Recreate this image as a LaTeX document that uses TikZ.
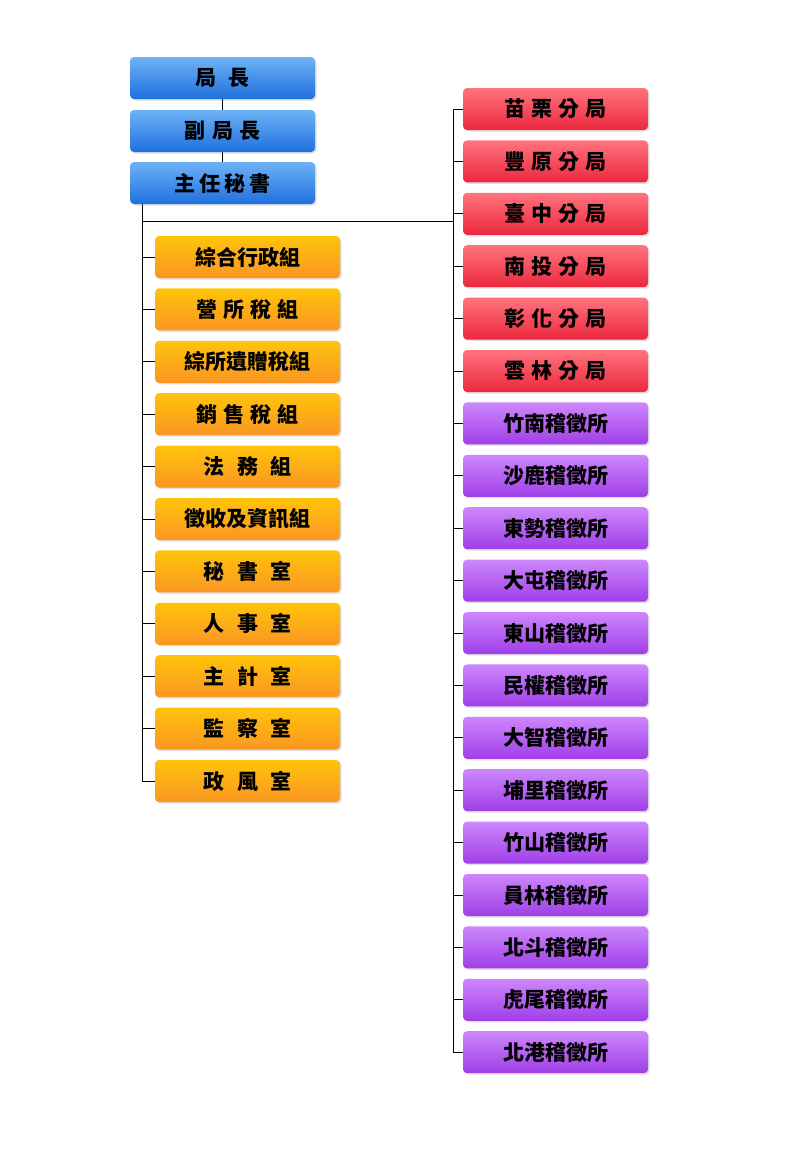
\documentclass[tikz,border=0pt]{standalone}
\usepackage{fontspec}
\newfontfamily\cjk{Noto Sans CJK TC}
\usepackage{xcolor}
\usepackage{tikz}
\usetikzlibrary{positioning}
\usetikzlibrary{shadows}

\definecolor{bluetop}{RGB}{110,178,245}
\definecolor{bluebot}{RGB}{30,112,222}
\definecolor{orangetop}{RGB}{255,196,10}
\definecolor{orangebot}{RGB}{250,150,35}
\definecolor{redtop}{RGB}{255,115,125}
\definecolor{redbot}{RGB}{236,40,62}
\definecolor{purpletop}{RGB}{205,135,252}
\definecolor{purplebot}{RGB}{160,62,232}

\newcommand{\unitfont}{\cjk\bfseries\fontsize{21}{21}\selectfont}

\tikzset{
  unit/.style={rectangle,rounded corners=4pt,minimum width=185pt,minimum height=42pt,
    inner sep=0pt,font=\unitfont,
    drop shadow={shadow xshift=1.5pt,shadow yshift=-1.5pt,opacity=.25}},
  head/.style={unit,top color=bluetop,bottom color=bluebot},
  staff/.style={unit,top color=orangetop,bottom color=orangebot},
  branch/.style={unit,top color=redtop,bottom color=redbot},
  office/.style={unit,top color=purpletop,bottom color=purplebot},
  link/.style={draw=black,line width=1pt}
}

\begin{document}
\begin{tikzpicture}[x=1pt,y=-1pt]
\useasboundingbox (0,0) rectangle (800,1160);

% lines first
\draw[link] (222,99) -- (222,110) (222,152) -- (222,162);
\draw[link] (142,204) -- (142,781);
\draw[link] (142,221) -- (453,221);
\draw[link] (453,109) -- (453,1052);

% leadership
\node[head] (chief)  at (222.5,78)  {局\hspace{0.6em}長};
\node[head] (deputy) at (222.5,131) {副\hspace{0.3em}局\hspace{0.3em}長};
\node[head] (secgen) at (222.5,183) {主\hspace{0.2em}任\hspace{0.2em}秘\hspace{0.2em}書};

% divisions
\foreach \name [count=\i] in {
  綜合行政組,
  營\hspace{0.3em}所\hspace{0.3em}稅\hspace{0.3em}組,
  綜所遺贈稅組,
  銷\hspace{0.3em}售\hspace{0.3em}稅\hspace{0.3em}組,
  法\hspace{0.6em}務\hspace{0.6em}組,
  徵收及資訊組,
  秘\hspace{0.6em}書\hspace{0.6em}室,
  人\hspace{0.6em}事\hspace{0.6em}室,
  主\hspace{0.6em}計\hspace{0.6em}室,
  監\hspace{0.6em}察\hspace{0.6em}室,
  政\hspace{0.6em}風\hspace{0.6em}室}
{
  \node[staff] (div\i) at (247.5,{257+(\i-1)*52.4}) {\name};
  \draw[link] (142,{257+(\i-1)*52.4}) -- (div\i.west);
}

% branches
\foreach \a/\b [count=\i] in {苗/栗,豐/原,臺/中,南/投,彰/化,雲/林}
{
  \node[branch] (br\i) at (555.5,{109+(\i-1)*52.4})
    {\a\hspace{0.3em}\b\hspace{0.3em}分\hspace{0.3em}局};
  \draw[link] (453,{109+(\i-1)*52.4}) -- (br\i.west);
}

% service offices
\foreach \name [count=\i] in {竹南,沙鹿,東勢,大屯,東山,民權,大智,埔里,竹山,員林,北斗,虎尾,北港}
{
  \node[office] (off\i) at (555.5,{423.4+(\i-1)*52.4}) {\name 稽徵所};
  \draw[link] (453,{423.4+(\i-1)*52.4}) -- (off\i.west);
}

\end{tikzpicture}
\end{document}
